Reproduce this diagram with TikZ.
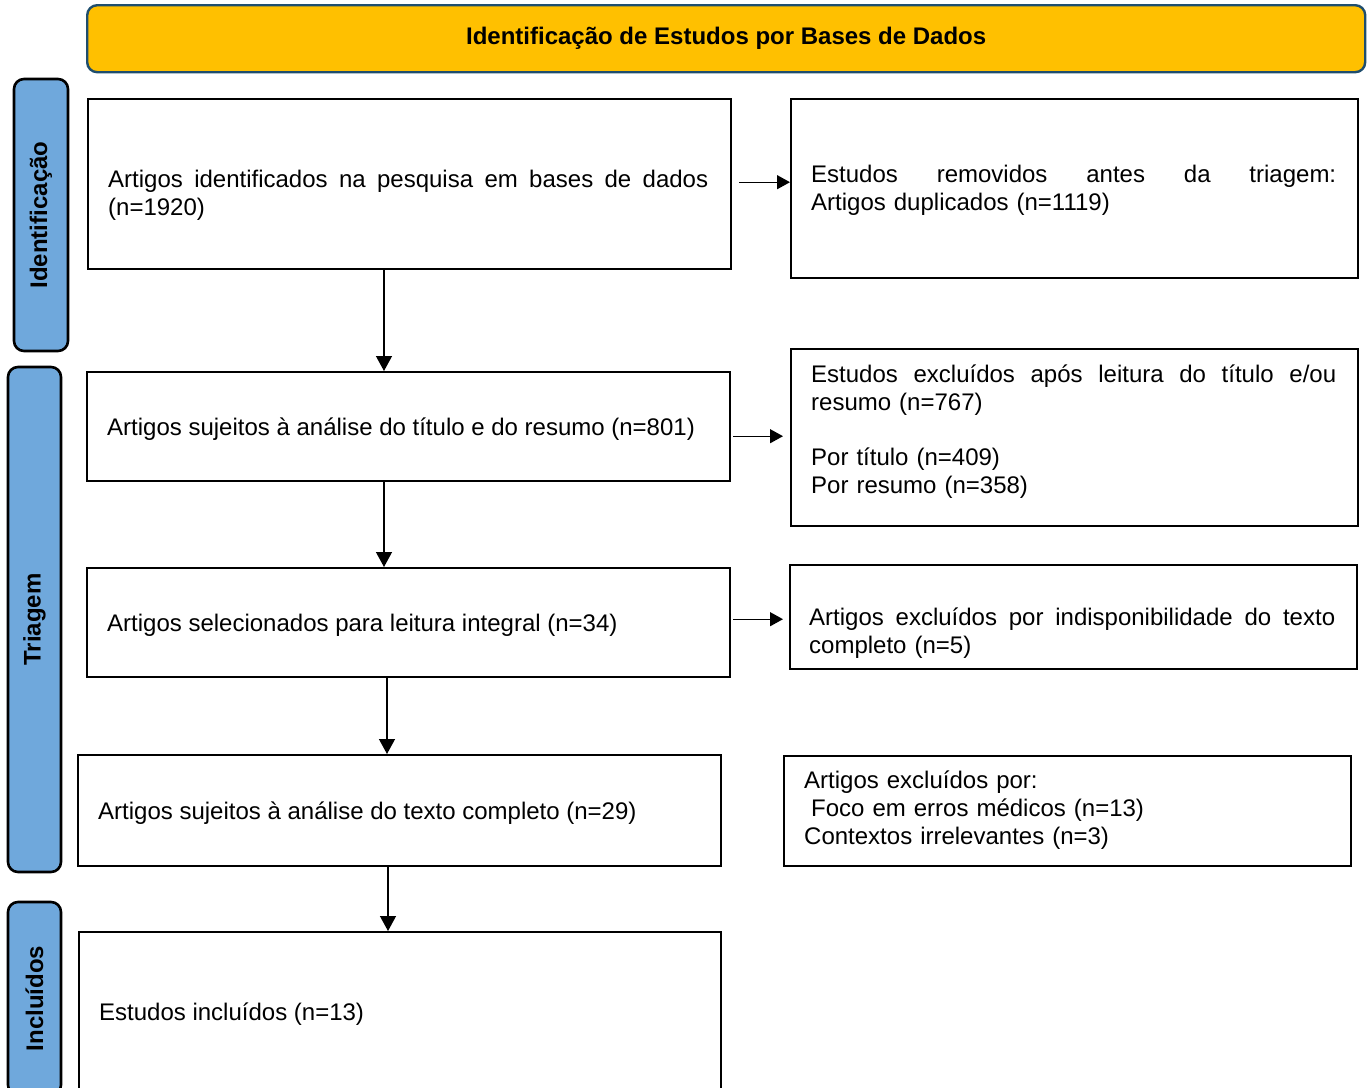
\documentclass[tikz,border=0pt]{standalone}
\usepackage{fontspec}
\setmainfont{Liberation Sans}
\usetikzlibrary{arrows.meta,calc}
\definecolor{bannerfill}{HTML}{FFC000}
\definecolor{bannerdraw}{HTML}{1F4E6E}
\definecolor{sidefill}{HTML}{6FA8DC}
\newcommand{\jline}[2]{\makebox[#1][s]{\spaceskip=0pt\xspaceskip=0pt\relax #2}}
\begin{document}
\begin{tikzpicture}[x=1pt,y=-1pt,
  box/.style={draw=black, line width=2.4pt, inner sep=0pt, anchor=north west},
  side/.style={draw=black, fill=sidefill, line width=2.6pt, rounded corners=10pt,
    rotate=90, inner sep=0pt, font=\bfseries\fontsize{24}{28}\selectfont},
  txt/.style={font=\fontsize{24}{28}\selectfont, inner sep=0pt, anchor=west, align=left},
  arr/.style={line width=1.3pt, -{Triangle[length=15pt,width=16pt]}},
  harr/.style={line width=1.3pt, -{Triangle[length=13pt,width=14pt]}}
]
\useasboundingbox (0,0) rectangle (1367,1087);

% banner
\node[draw=bannerdraw, fill=bannerfill, line width=2.4pt, rounded corners=10pt,
  minimum width=1278pt, minimum height=67pt, anchor=north west, inner sep=0pt,
  font=\bfseries\fontsize{24}{28}\selectfont] (title) at (86,4)
  {Identificação de Estudos por Bases de Dados};

% side labels
\node[side, minimum width=272pt, minimum height=54pt] (sid) at (41,215) {Identificação};
\node[side, minimum width=505pt, minimum height=53pt] (stri) at (34.5,619.5) {Triagem};
\node[side, minimum width=193pt, minimum height=53pt] (sinc) at (34.5,998.5) {Incluídos};

% boxes
\node[box, minimum width=643pt, minimum height=170pt] (b1) at (87,98) {};
\node[box, minimum width=567pt, minimum height=179pt] (r1) at (790,98) {};
\node[box, minimum width=643pt, minimum height=109pt] (b2) at (86,371) {};
\node[box, minimum width=567pt, minimum height=177pt] (r2) at (790,348) {};
\node[box, minimum width=643pt, minimum height=109pt] (b3) at (86,567) {};
\node[box, minimum width=567pt, minimum height=104pt] (r3) at (789,564) {};
\node[box, minimum width=643pt, minimum height=111pt] (b4) at (77,754) {};
\node[box, minimum width=567pt, minimum height=110pt] (r4) at (783,755) {};
\node[box, minimum width=642pt, minimum height=170pt] (b5) at (78,931) {};

% texts
\node[txt, text width=600pt] (t1) at (108,195)
  {\jline{600pt}{Artigos identificados na pesquisa em bases de dados}\\(n=1920)};
\node[txt, text width=525pt] (tr1) at (811,190)
  {\jline{525pt}{Estudos removidos antes da triagem:}\\Artigos duplicados (n=1119)};
\node[txt] (t2) at (107,429) {Artigos sujeitos à análise do título e do resumo (n=801)};
\node[txt, text width=525pt] (tr2) at (811,432)
  {\jline{525pt}{Estudos excluídos após leitura do título e/ou}\\resumo (n=767)\\[27pt]Por título (n=409)\\Por resumo (n=358)};
\node[txt] (t3) at (107,625) {Artigos selecionados para leitura integral (n=34)};
\node[txt, text width=526pt] (tr3) at (809,633)
  {\jline{526pt}{Artigos excluídos por indisponibilidade do texto}\\completo (n=5)};
\node[txt] (t4) at (98,813) {Artigos sujeitos à análise do texto completo (n=29)};
\node[txt, text width=540pt] (tr4) at (804,810)
  {Artigos excluídos por:\\\hspace*{7pt}Foco em erros médicos (n=13)\\Contextos irrelevantes (n=3)};
\node[txt] (t5) at (99,1014) {Estudos incluídos (n=13)};

% vertical arrows
\draw[arr] ($(b1.south west)+(297,0)$) -- ($(b2.north west)+(298,0)$);
\draw[arr] ($(b2.south west)+(298,0)$) -- ($(b3.north west)+(298,0)$);
\draw[arr] ($(b3.south west)+(301,0)$) -- ($(b4.north west)+(310,0)$);
\draw[arr] ($(b4.south west)+(311,0)$) -- ($(b5.north west)+(310,0)$);

% horizontal arrows
\draw[harr] ($(b1.east)+(7,-2)$) -- ($(r1.west |- b1.east)+(0,-2)$);
\draw[harr] ($(b2.east)+(2,9.5)$) -- ($(r2.west |- b2.east)+(-7,9.5)$);
\draw[harr] ($(b3.east)+(2,-3.5)$) -- ($(r3.west |- b3.east)+(-6,-3.5)$);
\end{tikzpicture}
\end{document}
